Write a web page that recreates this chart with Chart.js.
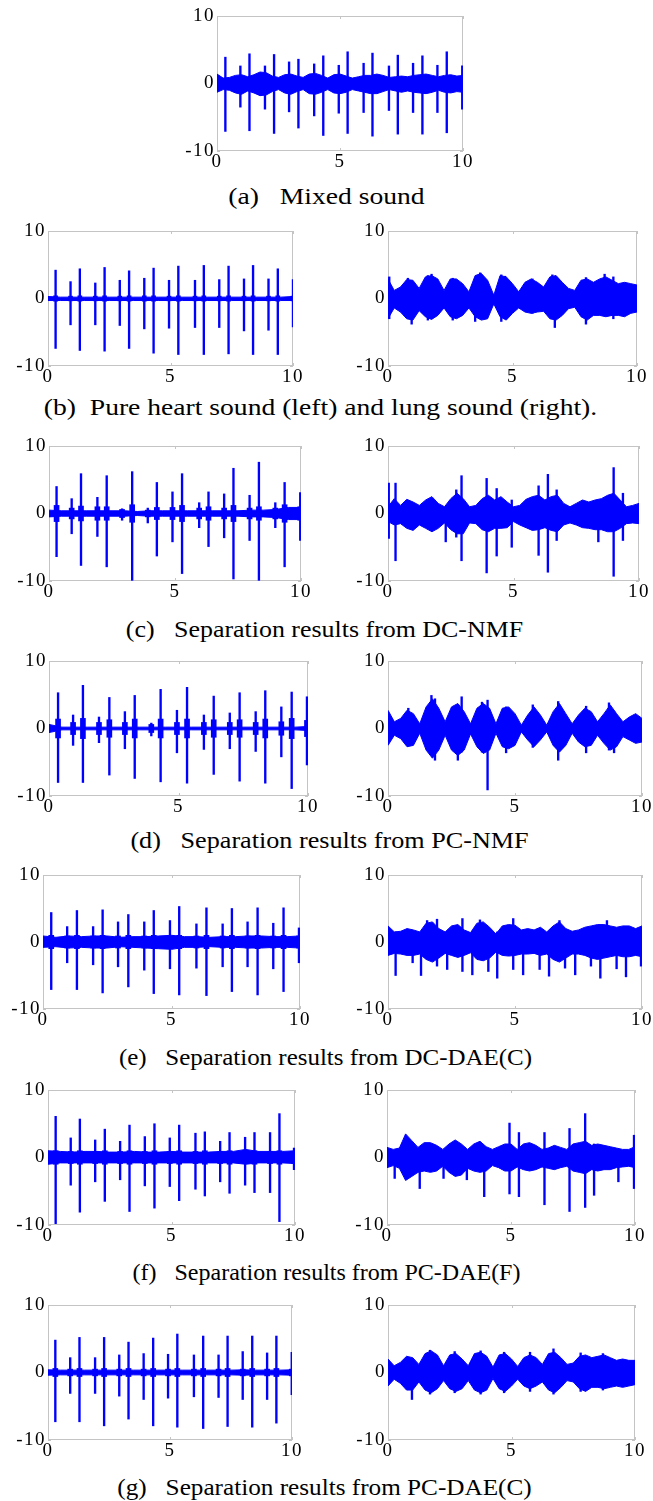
<!DOCTYPE html>
<html>
<head>
<meta charset="utf-8">
<script src="https://cdn.jsdelivr.net/npm/chart.js@4/dist/chart.umd.min.js"></script>
<style>
  html,body{margin:0;padding:0;background:#fff;}
  body{position:relative;width:653px;height:1501px;overflow:hidden;}
  canvas{position:absolute;}
  .cap{position:absolute;left:0;width:653px;text-align:center;font-family:'Liberation Serif','Times New Roman',serif;font-size:24px;line-height:28px;color:#000;white-space:pre;transform:scaleX(1.15);transform-origin:center;}
</style>
</head>
<body>
<div class="cap" style="top:182px;">(a)   Mixed sound</div>
<div class="cap" style="top:393px;left:-6px;">(b)  Pure heart sound (left) and lung sound (right).</div>
<div class="cap" style="top:615px;left:-2px;transform:scaleX(1.08);">(c)   Separation results from DC-NMF</div>
<div class="cap" style="top:826px;left:3px;transform:scaleX(1.09);">(d)   Separation results from PC-NMF</div>
<div class="cap" style="top:1043px;left:-1px;transform:scaleX(1.04);">(e)   Separation results from DC-DAE(C)</div>
<div class="cap" style="top:1258px;transform:scaleX(1.0);">(f)   Separation results from PC-DAE(F)</div>
<div class="cap" style="top:1473px;left:-2px;transform:scaleX(1.05);">(g)   Separation results from PC-DAE(C)</div>
<script>
// ---------- time grids (s) ----------
const T_Q = [0,0.25,0.5,0.75,1,1.25,1.5,1.75,2,2.25,2.5,2.75,3,3.25,3.5,3.75,4,4.25,4.5,4.75,5,5.25,5.5,5.75,6,6.25,6.5,6.75,7,7.25,7.5,7.75,8,8.25,8.5,8.75,9,9.25,9.5,9.75,10];
const T_H = [0,0.5,1,1.5,2,2.5,3,3.5,4,4.5,5,5.5,6,6.5,7,7.5,8,8.5,9,9.5,10];
const X_TICKS = [0,5,10];
const Y_TICKS = [-10,0,10];

// ---------- (a) mixed sound ----------
const A_UP = [1.4,0.8,0.9,1.2,1.3,1.0,1.3,1.7,1.6,1.1,0.9,1.3,1.4,1.1,0.9,1.4,1.5,1.2,0.8,1.3,1.4,1.1,0.8,1.0,1.2,1.2,1.4,1.2,0.9,1.0,1.1,1.0,1.2,1.3,1.4,1.2,1.0,1.2,1.3,1.1,1.2];
const A_DN = [-1.3,-0.9,-1.0,-1.4,-1.6,-1.1,-1.4,-1.8,-1.7,-1.2,-0.9,-1.4,-1.6,-1.2,-0.9,-1.5,-1.6,-1.3,-0.9,-1.4,-1.5,-1.3,-0.9,-1.1,-1.3,-1.5,-1.5,-1.2,-0.9,-1.1,-1.3,-1.1,-1.3,-1.4,-1.5,-1.3,-1.0,-1.3,-1.4,-1.2,-1.3];
const A_T  = [0.34,0.95,1.32,1.95,2.32,2.93,3.31,3.95,4.32,4.95,5.31,5.96,6.32,6.99,7.35,7.97,8.35,8.96,9.34,9.97];
const A_HI = [3.9,2.6,4.4,2.6,4.3,3.2,3.6,2.9,4.1,2.7,4.7,3.0,4.5,2.6,4.2,3.0,4.1,2.7,4.7,2.6];
const A_LO = [-7.1,-3.5,-7.0,-3.8,-7.4,-4.2,-6.6,-4.8,-7.7,-4.4,-7.4,-4.3,-7.8,-4.0,-7.5,-4.3,-7.5,-4.3,-7.3,-3.8];

// ---------- (b) pure heart / lung ----------
const B1_NUP = [0.3,0.2,0.2,0.2,0.2,0.2,0.2,0.2,0.2,0.2,0.2,0.2,0.2,0.2,0.2,0.2,0.2,0.2,0.2,0.2,0.3];
const B1_NDN = [-0.3,-0.3,-0.3,-0.3,-0.3,-0.3,-0.3,-0.3,-0.3,-0.3,-0.3,-0.3,-0.3,-0.3,-0.3,-0.3,-0.3,-0.3,-0.3,-0.3,-0.3];
const B1_T  = [0.31,0.92,1.30,1.93,2.31,2.93,3.31,3.93,4.31,4.94,5.32,6.00,6.36,6.99,7.37,8.00,8.37,9.00,9.38,10.0];
const B1_HI = [4.2,2.5,4.4,2.3,4.6,2.7,4.1,3.0,4.5,2.7,4.8,2.7,4.9,2.8,4.8,2.9,4.9,2.9,4.4,2.8];
const B1_LO = [-7.4,-3.9,-7.7,-3.9,-7.8,-4.0,-7.4,-4.5,-8.1,-4.4,-8.3,-4.3,-8.3,-4.3,-8.2,-4.8,-8.3,-4.7,-8.3,-4.2];
const B1_BU = [0.4,0.35,0.4,0.35,0.4,0.35,0.4,0.4,0.4,0.35,0.4,0.35,0.4,0.35,0.4,0.35,0.4,0.35,0.4,0.35];

const B2_UP = [2.9,1.2,1.7,2.8,2.7,1.5,3.2,3.4,2.9,1.2,2.9,2.9,2.2,1.0,3.4,3.7,2.7,0.5,3.4,3.2,2.2,1.0,2.4,2.9,2.4,1.7,3.2,3.4,2.4,1.5,1.2,2.7,2.9,2.4,2.9,3.2,2.7,2.2,2.4,2.2,2.0];
const B2_DN = [-3.0,-1.4,-2.0,-3.0,-3.2,-1.8,-2.7,-3.1,-2.5,-1.4,-2.7,-3.0,-2.5,-1.4,-2.7,-3.2,-3.0,-0.8,-2.7,-3.2,-2.2,-1.4,-2.0,-2.2,-2.0,-1.9,-3.0,-3.2,-2.5,-1.5,-1.3,-2.7,-3.2,-2.5,-2.5,-2.7,-2.5,-2.5,-2.7,-2.2,-2.0];
const B2_T  = [0.05,0.80,0.95,1.60,1.75,2.60,3.50,3.70,4.55,4.70,5.80,6.60,6.70,7.95,8.70,9.05];
const B2_HI = [3.2,3.0,1.5,3.4,3.6,3.0,3.0,3.8,3.5,3.3,2.9,3.5,2.0,3.1,3.6,3.2];
const B2_LO = [-3.0,-2.5,-3.8,-3.2,-3.0,-3.2,-3.4,-2.0,-3.4,-3.0,-2.2,-3.0,-4.3,-3.8,-2.5,-3.0];

// ---------- (c) DC-NMF ----------
const C1_NUP = [0.5,0.4,0.4,0.4,0.4,0.4,0.4,0.3,0.4,0.4,0.4,0.4,0.4,0.4,0.4,0.4,0.5,0.5,0.6,0.9,0.9];
const C1_NDN = [-0.5,-0.4,-0.4,-0.4,-0.4,-0.4,-0.4,-0.3,-0.4,-0.4,-0.4,-0.4,-0.4,-0.4,-0.4,-0.4,-0.5,-0.5,-0.6,-0.9,-0.9];
const C1_T  = [0.30,0.90,1.27,1.92,2.29,2.90,3.30,3.92,4.28,4.90,5.28,5.96,6.33,6.95,7.32,7.96,8.33,8.98,9.35,9.97];
const C1_HI = [4.0,2.2,5.9,2.4,5.6,0.7,6.2,0.8,4.6,3.2,5.9,1.6,3.2,2.9,6.7,2.7,7.6,1.6,4.6,3.1];
const C1_LO = [-6.4,-3.0,-7.7,-3.4,-7.9,-1.0,-9.9,-1.4,-6.3,-4.2,-8.9,-2.1,-4.9,-3.6,-9.7,-4.0,-9.9,-2.1,-7.9,-4.0];
const C1_BU = [1.2,0.8,1.1,1.0,1.0,0.6,1.3,0.5,0.9,0.9,1.2,0.8,1.0,0.8,1.2,0.8,1.0,0.8,1.3,1.0];

const C2_UP = [1.0,2.2,1.2,2.1,1.7,1.2,2.0,2.5,1.5,1.0,2.2,3.0,2.2,1.0,1.2,2.2,2.7,2.0,2.5,1.7,1.0,1.2,2.1,2.5,2.7,2.0,2.5,2.7,1.5,1.0,1.5,2.0,1.7,2.0,2.2,2.7,3.0,2.0,1.0,1.2,1.5];
const C2_DN = [-1.2,-1.7,-1.5,-2.2,-2.5,-1.7,-2.2,-2.7,-2.2,-1.4,-2.4,-3.0,-3.0,-1.4,-1.5,-2.4,-2.7,-2.2,-2.2,-2.1,-1.2,-1.7,-2.1,-2.5,-2.4,-2.1,-2.5,-2.7,-1.7,-1.4,-1.7,-2.1,-2.2,-2.4,-2.4,-2.7,-2.7,-2.2,-1.5,-1.4,-1.5];
const C2_T  = [0.03,0.30,2.30,2.72,2.93,3.93,4.33,4.93,6.00,6.37,6.72,8.38,8.99,9.36];
const C2_HI = [4.5,4.5,1.0,3.5,5.6,5.2,3.7,2.0,4.1,5.8,3.5,2.0,6.8,3.0];
const C2_LO = [-3.7,-7.0,-4.2,-3.5,-7.0,-8.8,-6.3,-5.0,-6.2,-8.7,-4.0,-4.2,-9.3,-4.0];

// ---------- (d) PC-NMF ----------
const D1_NUP = [0.6,0.2,0.2,0.2,0.2,0.2,0.2,0.2,0.2,0.2,0.2,0.2,0.2,0.2,0.2,0.2,0.2,0.2,0.2,0.2,0.3];
const D1_NDN = [-0.6,-0.2,-0.2,-0.2,-0.2,-0.2,-0.2,-0.2,-0.2,-0.2,-0.2,-0.2,-0.2,-0.2,-0.2,-0.2,-0.2,-0.2,-0.2,-0.2,-0.3];
const D1_T  = [0.35,0.93,1.31,1.93,2.33,2.93,3.31,3.95,4.31,4.94,5.33,5.98,6.36,6.98,7.36,7.98,8.35,8.97,9.37,9.96];
const D1_HI = [5.3,2.0,6.4,1.7,4.6,2.5,4.9,0.8,5.8,2.7,6.1,2.0,4.8,2.3,5.3,2.5,5.6,3.2,5.4,4.7];
const D1_LO = [-8.0,-2.5,-8.0,-2.1,-6.9,-3.0,-7.4,-1.1,-7.9,-3.6,-8.1,-3.1,-6.8,-3.0,-7.8,-3.4,-8.1,-4.2,-8.9,-5.4];
const D1_BU = [1.4,0.9,1.5,0.9,1.3,0.9,1.4,0.6,1.4,0.9,1.4,0.9,1.3,0.9,1.3,0.9,1.4,1.0,1.5,1.2];

const D2_UP = [2.7,1.0,1.5,2.7,2.2,0.7,3.2,4.4,3.0,1.0,3.2,3.7,2.5,0.7,3.0,3.7,3.0,0.7,3.0,3.2,2.2,0.5,2.0,3.2,2.0,0.5,2.5,3.7,2.2,0.7,2.0,3.0,2.5,1.0,2.2,3.5,2.2,1.0,1.7,2.2,1.5];
const D2_DN = [-2.5,-1.0,-1.5,-2.7,-2.5,-0.7,-3.2,-4.4,-3.2,-1.0,-3.2,-4.0,-3.2,-0.8,-2.7,-3.7,-3.2,-0.7,-2.7,-3.0,-2.5,-0.5,-1.7,-2.7,-1.7,-0.5,-2.5,-3.5,-2.5,-0.7,-2.0,-2.7,-2.5,-1.0,-2.2,-3.2,-2.7,-1.2,-1.7,-2.2,-2.0];
const D2_T  = [0.80,1.71,1.85,2.75,2.90,3.70,3.92,4.65,5.70,6.70,7.80,8.70,8.90];
const D2_HI = [3.0,4.9,4.4,3.5,4.7,3.9,4.2,3.2,3.5,4.0,3.3,3.8,2.5];
const D2_LO = [-2.5,-3.5,-4.7,-4.7,-3.5,-3.5,-9.1,-3.6,-2.8,-4.7,-3.6,-3.2,-3.6];

// ---------- (e) DC-DAE(C) ----------
const E1_NUP = [0.9,0.7,0.9,0.8,0.9,0.9,0.7,0.8,0.8,0.9,1.0,0.8,0.8,0.7,0.8,0.8,0.9,0.9,0.8,0.8,0.9];
const E1_NDN = [-0.8,-0.7,-0.9,-0.8,-0.9,-0.9,-0.7,-0.8,-0.9,-1.0,-1.1,-0.8,-0.8,-0.7,-0.8,-0.8,-0.9,-0.9,-0.8,-0.8,-0.9];
const E1_T  = [0.32,0.94,1.32,1.95,2.32,2.92,3.32,3.94,4.31,4.94,5.30,5.97,6.36,6.99,7.35,7.96,8.35,8.96,9.36,9.96];
const E1_HI = [4.4,2.3,4.7,2.3,4.8,3.0,4.1,3.0,4.7,3.2,5.3,2.7,5.1,2.7,5.0,3.0,5.1,2.8,5.1,2.1];
const E1_LO = [-7.1,-3.1,-7.1,-3.4,-7.6,-3.7,-6.7,-4.2,-7.7,-4.0,-7.9,-3.9,-8.0,-3.7,-7.4,-3.7,-7.9,-4.0,-7.4,-3.1];
const E1_BU = [1.0,0.9,1.0,0.9,1.0,0.9,1.0,0.9,1.0,0.9,1.0,0.9,1.0,0.9,1.0,0.9,1.0,0.9,1.0,0.9];

const E2_UP = [2.4,1.5,1.6,2.0,1.8,1.5,2.8,3.0,2.0,1.5,2.4,2.6,1.8,1.4,2.8,3.0,2.2,1.2,2.4,2.6,2.5,1.8,2.0,1.8,2.2,1.5,2.4,3.0,2.0,1.6,1.8,2.2,2.4,2.6,2.6,2.4,2.2,2.4,2.4,2.0,2.4];
const E2_DN = [-2.0,-1.7,-1.8,-2.0,-2.0,-1.8,-2.6,-3.0,-2.4,-1.7,-2.0,-2.3,-2.0,-1.6,-2.6,-2.8,-2.4,-1.5,-2.0,-2.1,-2.0,-1.8,-1.8,-1.7,-2.0,-1.8,-2.6,-3.0,-2.4,-1.8,-1.8,-2.0,-2.4,-2.6,-2.4,-2.2,-2.0,-2.2,-2.2,-2.0,-2.2];
const E2_T  = [0.30,0.97,1.30,1.54,1.93,2.33,2.93,3.32,3.62,3.95,4.30,4.93,5.32,5.97,6.34,6.75,6.97,7.37,7.99,8.36,8.62,9.00,9.37,9.96];
const E2_HI = [1.5,1.5,1.5,3.2,3.4,1.5,3.5,1.5,3.3,1.5,1.5,3.5,1.5,1.5,1.5,3.2,1.5,1.5,1.5,1.5,3.2,1.5,1.5,1.5];
const E2_LO = [-5.0,-3.1,-5.0,-2.0,-3.6,-4.1,-4.4,-4.9,-2.0,-4.4,-5.4,-4.1,-4.9,-4.1,-5.1,-2.0,-3.9,-4.9,-3.6,-5.4,-2.0,-4.0,-5.2,-3.6];

// ---------- (f) PC-DAE(F) ----------
const F1_NUP = [1.0,0.9,0.8,0.9,0.9,0.8,0.8,0.9,0.8,0.8,0.9,0.8,0.8,0.8,0.9,0.9,1.2,0.9,0.9,0.9,1.0];
const F1_NDN = [-1.0,-0.8,-0.8,-0.8,-0.8,-0.8,-0.8,-0.8,-0.8,-0.8,-0.8,-0.8,-0.8,-0.8,-0.8,-0.8,-1.0,-0.8,-0.8,-0.8,-0.9];
const F1_T  = [0.31,0.92,1.29,1.91,2.30,2.92,3.30,3.92,4.31,4.93,5.31,5.97,6.35,6.97,7.35,7.98,8.36,8.99,9.37,9.96];
const F1_HI = [6.1,2.9,5.7,2.6,4.2,2.4,4.8,3.1,5.0,2.9,4.8,3.6,3.8,2.4,3.7,3.0,3.7,3.7,6.5,1.4];
const F1_LO = [-9.8,-4.1,-8.1,-3.6,-6.5,-3.3,-8.0,-4.2,-7.5,-4.3,-6.4,-4.7,-5.7,-3.6,-5.3,-4.1,-5.2,-5.2,-9.5,-1.8];
const F1_BU = [1.0,0.9,1.0,0.9,1.0,0.9,1.0,0.9,1.0,0.9,1.0,0.9,1.0,0.9,1.0,0.9,1.0,0.9,1.0,0.9];

const F2_UP = [1.5,1.2,1.4,3.5,2.5,1.5,2.2,2.2,1.8,1.2,2.0,2.6,2.0,1.2,2.0,2.4,1.6,1.2,1.6,2.0,2.0,1.2,2.0,2.2,1.8,1.2,1.4,1.8,1.5,1.2,2.0,2.2,2.4,1.8,2.0,1.8,1.6,1.4,1.2,1.2,1.6];
const F2_DN = [-1.5,-1.2,-1.6,-3.4,-2.8,-2.2,-2.0,-2.2,-2.0,-1.3,-2.2,-2.8,-2.6,-1.6,-2.0,-2.2,-2.0,-1.2,-1.5,-2.0,-2.0,-1.4,-1.8,-2.0,-1.8,-1.4,-1.6,-1.8,-1.5,-1.3,-2.0,-2.2,-2.4,-1.8,-2.0,-1.8,-1.8,-1.5,-1.4,-1.3,-1.5];
const F2_T  = [0.31,1.32,2.28,3.22,3.92,4.94,5.32,6.35,7.36,7.99,8.35,9.33,9.96];
const F2_HI = [1.0,1.5,1.0,1.0,1.5,5.1,3.7,3.7,4.3,6.5,2.0,1.0,3.3];
const F2_LO = [-3.1,-4.6,-3.1,-3.3,-5.8,-5.4,-5.8,-7.0,-8.0,-7.4,-5.6,-3.6,-4.6];

// ---------- (g) PC-DAE(C) ----------
const G1_NUP = [0.4,0.35,0.35,0.35,0.35,0.35,0.35,0.35,0.35,0.35,0.35,0.35,0.35,0.35,0.35,0.35,0.4,0.35,0.35,0.35,0.4];
const G1_NDN = [-0.4,-0.35,-0.35,-0.35,-0.35,-0.35,-0.35,-0.35,-0.35,-0.35,-0.35,-0.35,-0.35,-0.35,-0.35,-0.35,-0.4,-0.35,-0.35,-0.35,-0.4];
const G1_T  = [0.30,0.91,1.29,1.93,2.30,2.92,3.30,3.92,4.31,4.92,5.30,5.98,6.36,6.99,7.36,7.98,8.37,8.98,9.36,9.99];
const G1_HI = [4.8,2.2,5.2,2.2,5.2,2.6,4.5,2.8,5.1,2.7,5.7,2.6,5.4,2.6,5.4,3.1,5.4,2.9,5.4,3.0];
const G1_LO = [-7.3,-3.1,-7.3,-3.1,-7.9,-3.5,-6.9,-4.0,-7.9,-3.8,-8.1,-3.6,-8.3,-3.7,-8.0,-4.0,-8.1,-4.0,-7.5,-3.3];
const G1_BU = [0.6,0.5,0.6,0.5,0.6,0.5,0.6,0.5,0.6,0.5,0.6,0.5,0.6,0.5,0.6,0.5,0.6,0.5,0.6,0.5];

const G2_UP = [2.0,1.0,1.5,2.4,2.2,1.2,2.8,3.2,2.6,1.0,2.6,2.8,2.0,1.0,2.8,3.0,2.4,0.8,2.6,2.8,2.0,0.9,2.2,2.6,2.2,1.2,2.8,3.0,2.2,1.2,1.4,2.4,2.6,2.2,2.4,2.6,2.2,1.8,2.0,1.8,1.8];
const G2_DN = [-2.0,-1.0,-1.6,-2.6,-2.6,-1.4,-2.6,-3.0,-2.4,-1.2,-2.4,-2.8,-2.4,-1.2,-2.6,-3.0,-2.6,-0.9,-2.4,-2.8,-2.0,-1.0,-2.0,-2.4,-2.0,-1.4,-2.6,-3.0,-2.2,-1.2,-1.4,-2.4,-2.8,-2.2,-2.2,-2.4,-2.2,-2.0,-2.2,-2.0,-1.8];
const G2_T  = [0.97,1.70,2.70,3.75,4.70,5.75,6.70,7.80,8.70];
const G2_HI = [1.5,3.3,3.1,3.2,3.0,3.0,3.5,2.9,2.8];
const G2_LO = [-4.0,-3.2,-3.0,-3.2,-3.0,-2.8,-3.2,-2.8,-2.6];

// ---------- layout (plot-area boxes in page pixels: left, top, right, bottom) ----------
const PANELS = [
  {box:[217,16,463,151],  grid:T_Q, up:A_UP,   dn:A_DN,   t:A_T,  hi:A_HI,  lo:A_LO,  bu:null,  bw:5},
  {box:[48,231,293,366],  grid:T_H, up:B1_NUP, dn:B1_NDN, t:B1_T, hi:B1_HI, lo:B1_LO, bu:B1_BU, bw:4},
  {box:[388,231,637,366], grid:T_Q, up:B2_UP,  dn:B2_DN,  t:B2_T, hi:B2_HI, lo:B2_LO, bu:null,  bw:5},
  {box:[49,446,301,581],  grid:T_H, up:C1_NUP, dn:C1_NDN, t:C1_T, hi:C1_HI, lo:C1_LO, bu:C1_BU, bw:5},
  {box:[388,446,639,581], grid:T_Q, up:C2_UP,  dn:C2_DN,  t:C2_T, hi:C2_HI, lo:C2_LO, bu:null,  bw:5},
  {box:[49,661,308,796],  grid:T_H, up:D1_NUP, dn:D1_NDN, t:D1_T, hi:D1_HI, lo:D1_LO, bu:D1_BU, bw:5},
  {box:[388,661,642,796], grid:T_Q, up:D2_UP,  dn:D2_DN,  t:D2_T, hi:D2_HI, lo:D2_LO, bu:null,  bw:5},
  {box:[43,875,300,1009], grid:T_H, up:E1_NUP, dn:E1_NDN, t:E1_T, hi:E1_HI, lo:E1_LO, bu:E1_BU, bw:5},
  {box:[388,875,642,1009],grid:T_Q, up:E2_UP,  dn:E2_DN,  t:E2_T, hi:E2_HI, lo:E2_LO, bu:null,  bw:5},
  {box:[48,1090,295,1225],grid:T_H, up:F1_NUP, dn:F1_NDN, t:F1_T, hi:F1_HI, lo:F1_LO, bu:F1_BU, bw:5},
  {box:[387,1090,635,1225],grid:T_Q,up:F2_UP,  dn:F2_DN,  t:F2_T, hi:F2_HI, lo:F2_LO, bu:null,  bw:5},
  {box:[48,1305,292,1440],grid:T_H, up:G1_NUP, dn:G1_NDN, t:G1_T, hi:G1_HI, lo:G1_LO, bu:G1_BU, bw:5},
  {box:[388,1305,635,1440],grid:T_Q,up:G2_UP,  dn:G2_DN,  t:G2_T, hi:G2_HI, lo:G2_LO, bu:null,  bw:5}
];

const BLUE = '#0000ff';
const FRAME = '#c4c4c4';
const FONT = "'Liberation Serif','Times New Roman',serif";
const ML = 50, MT = 12, MR = 16, MB = 28;

const framePlugin = {
  id: 'frame',
  beforeDraw(chart) {
    chart.ctx.letterSpacing = '1.5px';
  },
  beforeDatasetsDraw(chart) {
    const {ctx, chartArea: a, scales: {x, y}} = chart;
    ctx.save();
    ctx.strokeStyle = FRAME;
    ctx.lineWidth = 1;
    ctx.strokeRect(a.left + 0.5, a.top + 0.5, a.right - a.left - 1, a.bottom - a.top - 1);
    ctx.beginPath();
    X_TICKS.forEach(v => {
      const px = Math.round(x.getPixelForValue(v)) + 0.5;
      ctx.moveTo(px, a.top); ctx.lineTo(px, a.top + 3);
      ctx.moveTo(px, a.bottom); ctx.lineTo(px, a.bottom - 3);
    });
    Y_TICKS.forEach(v => {
      const py = Math.round(y.getPixelForValue(v)) + 0.5;
      ctx.moveTo(a.left, py); ctx.lineTo(a.left + 3, py);
      ctx.moveTo(a.right, py); ctx.lineTo(a.right - 3, py);
    });
    ctx.stroke();
    ctx.restore();
  }
};

function build(p) {
  const w = p.box[2] - p.box[0], h = p.box[3] - p.box[1];
  const c = document.createElement('canvas');
  const cw = w + ML + MR, ch = h + MT + MB;
  c.width = cw; c.height = ch;
  c.style.left = (p.box[0] - ML) + 'px';
  c.style.top = (p.box[1] - MT) + 'px';
  c.style.width = cw + 'px'; c.style.height = ch + 'px';
  document.body.appendChild(c);

  const datasets = [
    {type: 'line', data: p.grid.map((x, i) => ({x, y: p.up[i]})), borderColor: BLUE, backgroundColor: BLUE,
     borderWidth: 1, pointRadius: 0, tension: 0, fill: '+1'},
    {type: 'line', data: p.grid.map((x, i) => ({x, y: p.dn[i]})), borderColor: BLUE, backgroundColor: BLUE,
     borderWidth: 1, pointRadius: 0, tension: 0, fill: false}
  ];
  if (p.bu) {
    datasets.push({type: 'bar', grouped: false, barThickness: p.bw, backgroundColor: BLUE,
      data: p.t.map((x, i) => ({x, y: [-p.bu[i], p.bu[i]]}))});
  }
  datasets.push({type: 'bar', grouped: false, barThickness: 1.7, backgroundColor: BLUE,
    data: p.t.map((x, i) => ({x, y: [p.lo[i], p.hi[i]]}))});

  new Chart(c, {
    type: 'bar',
    data: {datasets},
    options: {
      responsive: false, animation: false, events: [],
      layout: {padding: {left: 0, top: MT, right: MR, bottom: 0}},
      plugins: {legend: {display: false}, tooltip: {enabled: false}},
      scales: {
        x: {type: 'linear', min: 0, max: 10, offset: false,
            grid: {display: false, drawTicks: false, offset: false}, border: {display: false},
            afterBuildTicks: s => { s.ticks = X_TICKS.map(v => ({value: v})); },
            ticks: {font: {family: FONT, size: 19}, color: '#000', padding: 0, maxRotation: 0, autoSkip: false},
            afterFit: s => { s.height = MB; s.paddingLeft = 0; s.paddingRight = 0; }},
        y: {type: 'linear', min: -10, max: 10,
            grid: {display: false, drawTicks: false}, border: {display: false},
            afterBuildTicks: s => { s.ticks = Y_TICKS.map(v => ({value: v})); },
            ticks: {font: {family: FONT, size: 19}, color: '#000', padding: 2, autoSkip: false},
            afterFit: s => { s.width = ML; s.paddingTop = 0; s.paddingBottom = 0; }}
      }
    },
    plugins: [framePlugin]
  });
}

PANELS.forEach(build);
</script>
</body>
</html>
